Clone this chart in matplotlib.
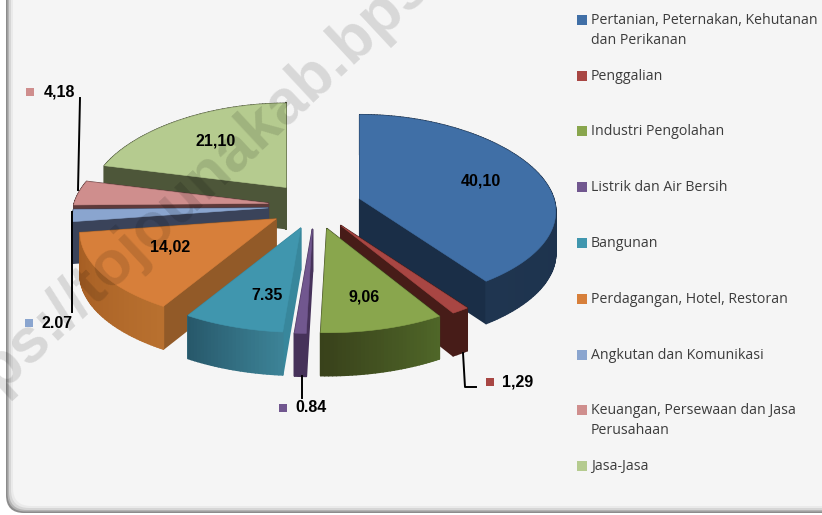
import numpy as np
import matplotlib
matplotlib.use("Agg")
import matplotlib.pyplot as plt
from matplotlib.colors import to_rgb
from matplotlib.patches import FancyBboxPatch, Polygon

categories = ["Pertanian, Peternakan, Kehutanan\ndan Perikanan", "Penggalian", "Industri Pengolahan",
              "Listrik dan Air Bersih", "Bangunan", "Perdagangan, Hotel, Restoran",
              "Angkutan dan Komunikasi", "Keuangan, Persewaan dan Jasa\nPerusahaan", "Jasa-Jasa"]
values = [40.10, 1.29, 9.06, 0.84, 7.35, 14.02, 2.07, 4.18, 21.10]
value_labels = ["40,10", "1,29", "9,06", "0.84", "7.35", "14,02", "2.07", "4,18", "21,10"]

top_colors = ["#406fa6", "#a84643", "#89a64d", "#71578f", "#4096ae", "#d77f3a", "#8aa5cf", "#cf8e8d", "#b5cb8f"]
cut_colors = ["#1a2e47", "#471c18", "#3a431c", "#46325a", "#38879c", "#925a28", "#3a435a", "#5e3a3a", "#4d5639"]
wall_start = ["#1a2e47", "#471c18", "#4f6628", "#46325a", "#3c8296", "#b8702f", "#3a435a", "#5e3a3a", "#4d5639"]
wall_end = ["#1f3550", "#471c18", "#39421b", "#46325a", "#27586a", "#a45c22", "#3a435a", "#5e3a3a", "#4d5639"]

# back to front, green goes over the dark side of the red slice
draw_order = [8, 7, 6, 5, 0, 1, 4, 3, 2]

# where the value labels and their little squares sit (pixels)
label_pos = {0: (481, 181), 2: (364, 297), 4: (267, 296), 5: (170, 247), 8: (216, 141)}
outside_pos = {1: (518, 382, 490), 3: (311, 408, 283), 6: (57, 323, 29), 7: (59, 92, 30)}
legend_y = [20, 76, 131, 187, 243, 299, 355, 410, 466]

CX, CY = 315, 206
EXPLODE_X, EXPLODE_Y = 47, 23.5


def project(theta, r=1.0):
    # excel style perspective, front of the pie is wider and taller
    u = r * np.sin(theta)
    v = -r * np.cos(theta)
    return u * (194 + 28 * v), 92 * v + 10 * v * v + 2 * v ** 3


def depth(y):
    return 40 + 3 * np.clip((y - 100) / 240, 0, 1)


fig = plt.figure(figsize=(8.22, 5.15), dpi=100)
ax = fig.add_axes([0, 0, 1, 1])
ax.set_xlim(0, 822)
ax.set_ylim(515, 0)
ax.axis("off")

# panel with soft edge
for inset, col in [(0, "#8c8c8c"), (1.5, "#b4b4b4"), (3, "#d6d6d6"), (5, "#eaeaea"), (7, "#f5f5f5")]:
    ax.add_patch(FancyBboxPatch((6 + inset, -40), 900, 553 - inset, boxstyle="round,pad=0,rounding_size=18",
                                fc=col, ec="none", zorder=1))

fractions = np.array(values) / np.sum(values)
edges = np.concatenate([[0], np.cumsum(fractions)]) * 2 * np.pi

for i in draw_order:
    a0, a1 = edges[i], edges[i + 1]
    mid = (a0 + a1) / 2
    ox = CX + EXPLODE_X * np.sin(mid)
    oy = CY + EXPLODE_Y * -np.cos(mid)

    n = max(2, int(np.degrees(a1 - a0)) + 1)
    th = np.linspace(a0, a1, n)
    px, py = project(th)
    px = px + ox
    py = py + oy

    faces = []
    for k in range(n - 1):
        t = k / max(1, n - 2)
        col = np.array(to_rgb(wall_start[i])) * (1 - t) + np.array(to_rgb(wall_end[i])) * t
        quad = [(px[k], py[k]), (px[k + 1], py[k + 1]),
                (px[k + 1], py[k + 1] + depth(py[k + 1])), (px[k], py[k] + depth(py[k]))]
        faces.append((np.mean([q[1] for q in quad]), quad, col))
    for j in (0, -1):
        quad = [(ox, oy), (px[j], py[j]), (px[j], py[j] + depth(py[j])), (ox, oy + depth(oy))]
        # cut faces sit behind the outer wall when both show
        faces.append((np.mean([q[1] for q in quad]) - 60, quad, cut_colors[i]))

    z = 10 + draw_order.index(i) * 2
    for _, quad, col in sorted(faces, key=lambda f: f[0]):
        ax.add_patch(Polygon(quad, closed=True, fc=col, ec=col, lw=1.2, joinstyle="round", zorder=z))
    ax.add_patch(Polygon(np.column_stack([np.r_[ox, px], np.r_[oy, py]]), closed=True,
                         fc=top_colors[i], ec=top_colors[i], lw=0.4, zorder=z + 1))

# leader lines
ax.plot([80, 78], [98, 190], color="black", lw=1.4, zorder=40)
ax.plot([72, 72], [212, 312], color="black", lw=1.4, zorder=40)
ax.plot([302, 302], [376, 398], color="black", lw=1.4, zorder=40)
ax.plot([463, 465, 476], [353, 387, 387], color="black", lw=1.4, zorder=40)

# watermark
ax.text(237, 148, "https://tojounakab.bps.go.id", rotation=43, rotation_mode="anchor", ha="center", va="center",
        fontsize=45, fontweight="bold", family="Liberation Sans", color="black", alpha=0.12, zorder=45, clip_on=True)

for i, (x, y) in label_pos.items():
    ax.text(x, y, value_labels[i], ha="center", va="center", fontsize=11.5, fontweight="bold",
            family="Liberation Sans", color="black", zorder=50)
for i, (x, y, sx) in outside_pos.items():
    ax.text(x, y, value_labels[i], ha="center", va="center", fontsize=11.5, fontweight="bold",
            family="Liberation Sans", color="black", zorder=50)
    ax.scatter([sx], [y], marker="s", s=30, color=top_colors[i], zorder=50, linewidths=0)

# legend
for i, name in enumerate(categories):
    ax.scatter([581.5], [legend_y[i]], marker="s", s=62, color=top_colors[i], zorder=50, linewidths=0)
    ax.text(591, legend_y[i] - 7, name, ha="left", va="top", fontsize=10.2, family="Open Sans",
            color="#3c3c3c", linespacing=1.42, zorder=50)

fig.savefig("out.png", dpi=100, facecolor="white")
